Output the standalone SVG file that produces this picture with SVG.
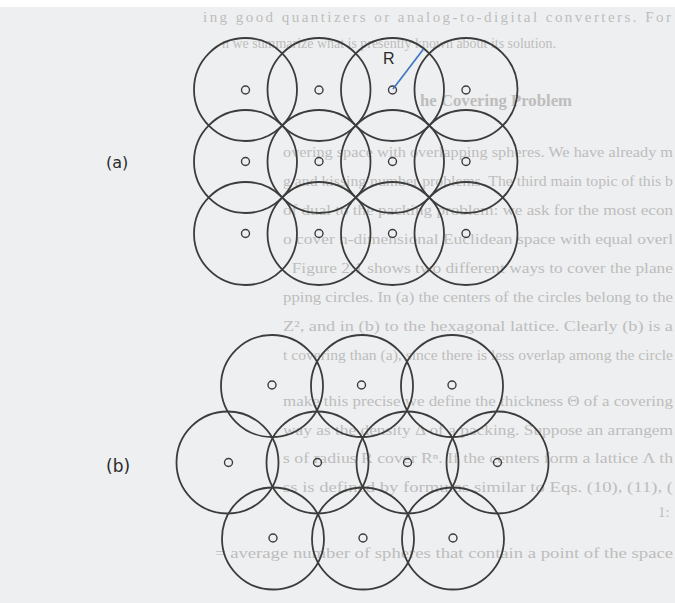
<svg xmlns="http://www.w3.org/2000/svg" width="675" height="603" viewBox="0 0 675 603">
<defs>
<style>
.bg{fill:#eeeff0}
.page{font-family:"Liberation Serif","DejaVu Serif",serif;font-size:15px;fill:#bdbdbd}
.head{font-weight:bold;font-size:17px}
.cov{fill:none;stroke:#3c3c3c;stroke-width:1.8}
.ctr{fill:none;stroke:#3c3c3c;stroke-width:1.4}
.lbl{font-family:"DejaVu Sans","Liberation Sans",sans-serif;fill:#2a2a2a}
.rad{stroke:#3f78c4;stroke-width:1.7;fill:none}
</style>
</defs>
<rect class="bg" x="0" y="0" width="675" height="603"/>
<rect x="0" y="0" width="675" height="7" fill="#ffffff"/>
<g id="page-text" class="page">
<text x="203" y="22" textLength="468" lengthAdjust="spacing">ing good quantizers or analog-to-digital converters. For</text>
<text x="222" y="48" textLength="334" lengthAdjust="spacingAndGlyphs">n we summarize what is presently known about its solution.</text>
<text class="head" x="420" y="106" textLength="152" lengthAdjust="spacingAndGlyphs">he Covering Problem</text>
<text x="283" y="157" textLength="390" lengthAdjust="spacingAndGlyphs">overing space with overlapping spheres. We have already m</text>
<text x="283" y="186" textLength="390" lengthAdjust="spacingAndGlyphs">g and kissing number problems. The third main topic of this b</text>
<text x="283" y="215" textLength="390" lengthAdjust="spacingAndGlyphs">of dual to the packing problem: we ask for the most econ</text>
<text x="283" y="244" textLength="390" lengthAdjust="spacingAndGlyphs">o cover n-dimensional Euclidean space with equal overl</text>
<text x="283" y="273" textLength="390" lengthAdjust="spacingAndGlyphs">. Figure 2.1 shows two different ways to cover the plane</text>
<text x="283" y="302" textLength="390" lengthAdjust="spacingAndGlyphs">pping circles. In (a) the centers of the circles belong to the</text>
<text x="283" y="331" textLength="390" lengthAdjust="spacingAndGlyphs">Z², and in (b) to the hexagonal lattice. Clearly (b) is a</text>
<text x="283" y="360" textLength="390" lengthAdjust="spacingAndGlyphs">t covering than (a), since there is less overlap among the circle</text>
<text x="283" y="406" textLength="390" lengthAdjust="spacingAndGlyphs">make this precise we define the thickness Θ of a covering</text>
<text x="283" y="435" textLength="390" lengthAdjust="spacingAndGlyphs">way as the density Δ of a packing. Suppose an arrangem</text>
<text x="283" y="463" textLength="390" lengthAdjust="spacingAndGlyphs">s of radius R cover Rⁿ. If the centers form a lattice Λ th</text>
<text x="283" y="492" textLength="390" lengthAdjust="spacingAndGlyphs">ss is defined by formulas similar to Eqs. (10), (11), (</text>
<text x="658" y="517">1:</text>
<text x="215" y="558" textLength="458" lengthAdjust="spacingAndGlyphs">= average number of spheres that contain a point of the space</text>
</g>
<g id="covering-a">
<g id="a-r1c1"><circle class="cov" cx="245.5" cy="89.5" r="51.5"/><circle class="ctr" cx="245.5" cy="90" r="4"/></g>
<g id="a-r1c2"><circle class="cov" cx="319" cy="89.5" r="51.5"/><circle class="ctr" cx="319" cy="90" r="4"/></g>
<g id="a-r1c3"><circle class="cov" cx="392.5" cy="89.5" r="51.5"/><circle class="ctr" cx="392.5" cy="90" r="4"/></g>
<g id="a-r1c4"><circle class="cov" cx="466" cy="89.5" r="51.5"/><circle class="ctr" cx="466" cy="90" r="4"/></g>
<g id="a-r2c1"><circle class="cov" cx="245.5" cy="161.5" r="51.5"/><circle class="ctr" cx="245.5" cy="161.5" r="4"/></g>
<g id="a-r2c2"><circle class="cov" cx="319" cy="161.5" r="51.5"/><circle class="ctr" cx="319" cy="161.5" r="4"/></g>
<g id="a-r2c3"><circle class="cov" cx="392.5" cy="161.5" r="51.5"/><circle class="ctr" cx="392.5" cy="161.5" r="4"/></g>
<g id="a-r2c4"><circle class="cov" cx="466" cy="161.5" r="51.5"/><circle class="ctr" cx="466" cy="161.5" r="4"/></g>
<g id="a-r3c1"><circle class="cov" cx="245.5" cy="233.5" r="51.5"/><circle class="ctr" cx="245.5" cy="233.5" r="4"/></g>
<g id="a-r3c2"><circle class="cov" cx="319" cy="233.5" r="51.5"/><circle class="ctr" cx="319" cy="233.5" r="4"/></g>
<g id="a-r3c3"><circle class="cov" cx="392.5" cy="233.5" r="51.5"/><circle class="ctr" cx="392.5" cy="233.5" r="4"/></g>
<g id="a-r3c4"><circle class="cov" cx="466" cy="233.5" r="51.5"/><circle class="ctr" cx="466" cy="233.5" r="4"/></g>
</g>
<g id="covering-b">
<g id="b-r1c1"><circle class="cov" cx="272" cy="386" r="51"/><circle class="ctr" cx="272" cy="385" r="4"/></g>
<g id="b-r1c2"><circle class="cov" cx="362" cy="386" r="51"/><circle class="ctr" cx="361.5" cy="385" r="4"/></g>
<g id="b-r1c3"><circle class="cov" cx="452" cy="386" r="51"/><circle class="ctr" cx="452" cy="385" r="4"/></g>
<g id="b-r2c1"><circle class="cov" cx="227.5" cy="462.5" r="51"/><circle class="ctr" cx="228.5" cy="462.5" r="4"/></g>
<g id="b-r2c2"><circle class="cov" cx="317.5" cy="462.5" r="51"/><circle class="ctr" cx="317.5" cy="462.5" r="4"/></g>
<g id="b-r2c3"><circle class="cov" cx="407.5" cy="462.5" r="51"/><circle class="ctr" cx="407.5" cy="462.5" r="4"/></g>
<g id="b-r2c4"><circle class="cov" cx="497.5" cy="462.5" r="51"/><circle class="ctr" cx="497.5" cy="462.5" r="4"/></g>
<g id="b-r3c1"><circle class="cov" cx="273" cy="538.5" r="51"/><circle class="ctr" cx="273" cy="538" r="4"/></g>
<g id="b-r3c2"><circle class="cov" cx="363" cy="538.5" r="51"/><circle class="ctr" cx="363" cy="538" r="4"/></g>
<g id="b-r3c3"><circle class="cov" cx="453" cy="538.5" r="51"/><circle class="ctr" cx="453" cy="538" r="4"/></g>
</g>
<g id="connectors">
<line id="radius-R" class="rad" x1="393" y1="89" x2="423.5" y2="49"/>
</g>
<g id="labels" class="lbl">
<text id="label-R" x="383" y="63.5" font-size="16" font-family="Liberation Sans, sans-serif">R</text>
<text id="label-a" x="106" y="168" font-size="16">(a)</text>
<text id="label-b" x="106" y="472" font-size="17">(b)</text>
</g>
</svg>
